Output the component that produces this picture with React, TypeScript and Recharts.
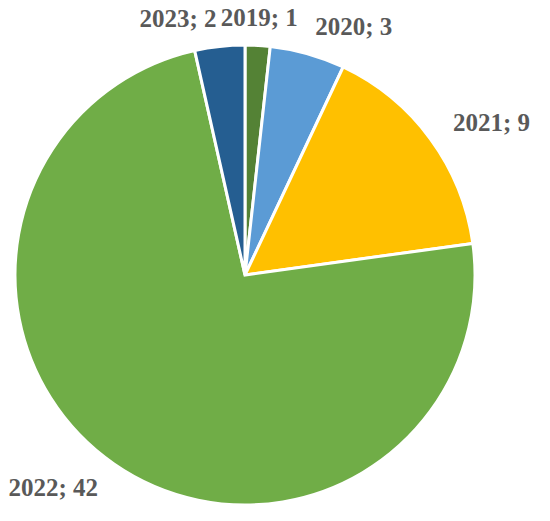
import { PieChart, Pie, Cell } from "recharts";

const years = ["2019", "2020", "2021", "2022", "2023"];
const counts = [1, 3, 9, 42, 2];
const colors = ["#548235", "#5B9BD5", "#FFC000", "#70AD47", "#255E91"];

const data = years.map((y, i) => ({ name: y, value: counts[i] }));

const RAD = Math.PI / 180;

function renderLabel(props: any) {
  const { cx, cy, midAngle, outerRadius, name, value } = props;
  const r = outerRadius + 28;
  const x = cx + r * Math.cos(-midAngle * RAD);
  const y = cy + r * Math.sin(-midAngle * RAD);
  const s = Math.cos(-midAngle * RAD);
  const anchor = Math.abs(s) < 0.08 ? "middle" : s > 0 ? "start" : "end";
  return (
    <text x={x} y={y} textAnchor={anchor} dominantBaseline="central"
      fill="#595959" fontSize={25} fontWeight="bold" fontFamily="'Liberation Serif', 'Times New Roman', serif">
      {`${name}; ${value}`}
    </text>
  );
}

export default function App() {
  return (
    <div style={{ position: "absolute", left: 0, top: 0, background: "#fff" }}>
      <PieChart width={550} height={521}>
        <Pie data={data} dataKey="value" nameKey="name" cx={240} cy={270} outerRadius={230}
          startAngle={90} endAngle={-270} stroke="#ffffff" strokeWidth={3}
          label={renderLabel} labelLine={false} isAnimationActive={false}>
          {data.map((d, i) => (
            <Cell key={d.name} fill={colors[i]} />
          ))}
        </Pie>
      </PieChart>
    </div>
  );
}
